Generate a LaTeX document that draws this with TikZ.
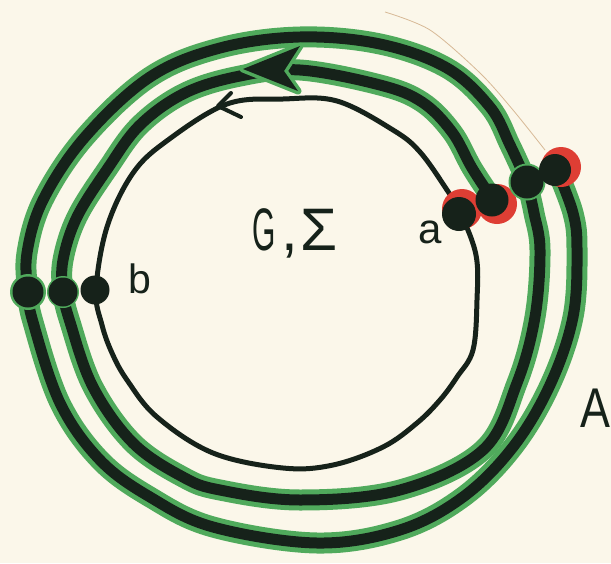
\documentclass[tikz,border=0pt]{standalone}
\usepackage{fontspec}
\setmainfont{Liberation Sans}
\usepackage{graphicx}
\definecolor{paper}{RGB}{251,247,234}
\definecolor{ink}{RGB}{22,34,26}
\definecolor{leaf}{RGB}{80,170,92}
\definecolor{rouge}{RGB}{222,62,52}
\definecolor{pencil}{RGB}{215,185,150}
\tikzset{
  band/.style={line width=21pt, leaf, line cap=round, line join=round},
  core/.style={line width=11pt, ink, line cap=round, line join=round},
  fine/.style={line width=5pt, ink, line cap=round, line join=round},
  dotblack/.style={circle, fill=ink, inner sep=0pt, minimum size=#1},
  dotring/.style={circle, fill=rouge, inner sep=0pt, minimum size=#1},
  dotgreen/.style={circle, fill=leaf, inner sep=0pt, minimum size=#1},
  lbl/.style={text=ink, inner sep=0pt}
}
\begin{document}
\begin{tikzpicture}[x=1pt,y=-1pt]
\fill[paper] (0,0) rectangle (611,563);
\useasboundingbox (0,0) rectangle (611,563);

% faint pencil arc
\draw[pencil, line width=0.8pt] plot[smooth] coordinates {(385,12) (430,30) (480,73) (513,110) (545,150)};

% outer loop (dot 3 -> dot 4)
\foreach \s in {band,core}
\draw[\s] plot[smooth, tension=0.6] coordinates {
 (527,182) (510,145) (490,107) (447,68) (380,44) (300,37) (220,48) (150,77)
 (85,137) (43,200) (27,253) (28,292) (33,322) (60,403) (100,460) (150,497)
 (213,527) (317,543) (400,530) (463,497) (513,447) (550,385) (573,317)
 (577,250) (573,213) (556,168)};

% middle loop (dot 2 -> dot 3)
\foreach \s in {band,core}
\draw[\s] plot[smooth, tension=0.6] coordinates {
 (493,200) (472,168) (452,132) (422,102) (380,85) (300,70) (240,76) (185,93)
 (140,125) (108,168) (77,217) (63,260) (63,292) (70,322) (93,387) (133,443)
 (183,477) (220,490) (300,500) (400,490) (483,450) (517,383) (535,317)
 (540,250) (534,213) (527,182)};

% arrowhead on middle loop
\draw[leaf, line width=7pt, line join=round, fill=ink]
  (243,69) -- (300,46) -- (284,71) -- (298,91) -- cycle;
\fill[ink] (243,69) -- (300,46) -- (284,71) -- (298,91) -- cycle;

% inner circle
\draw[fine] plot[smooth cycle, tension=0.6] coordinates {
 (460,212) (447,190) (420,152) (393,130) (337,101) (283,99) (227,104)
 (168,140) (133,173) (107,227) (96,290) (102,325) (112,353) (127,380)
 (157,417) (213,453) (283,468) (333,465) (383,447) (417,423) (440,400)
 (457,377) (473,350) (477,300) (476,255)};
% inner arrowhead
\draw[fine, line width=4pt] (231,93) -- (218,106) -- (241,117);

% dots on the right
\node[dotring=40pt] (r1) at (462,209) {};
\node[dotblack=34pt] (a) at (459,214) {};
\node[dotring=40pt] (r2) at (497,204) {};
\node[dotblack=33pt] (d2) at (492,200) {};
\node[dotgreen=37pt] (g3) at (527,182) {};
\node[dotblack=33pt] (d3) at (527,182) {};
\node[dotring=40pt] (r4) at (561,167) {};
\node[dotblack=32pt] (d4) at (555,170) {};

% dots on the left
\node[dotgreen=36pt] (g5) at (28,292) {};
\node[dotblack=31pt] (d5) at (28,292) {};
\node[dotgreen=32pt] (g6) at (63,292) {};
\node[dotblack=29pt] (d6) at (63,292) {};
\node[dotblack=29pt] (b) at (95,290) {};

% labels
\node[lbl, anchor=base, font=\fontsize{42}{42}\selectfont] (la) at (430,243) {a};
\node[lbl, anchor=base, font=\fontsize{41}{41}\selectfont] (lb) at (140,293) {b};
\node[lbl, anchor=base, font=\fontsize{56}{56}\selectfont] (lA) at (595,427) {\scalebox{0.8}[1]{A}};
\node[lbl, anchor=base, font=\fontsize{60}{60}\selectfont] (lG) at (295,250)
  {\scalebox{0.5}[1]{G}\hspace{6pt},\hspace{2pt}Σ};
\end{tikzpicture}
\end{document}
